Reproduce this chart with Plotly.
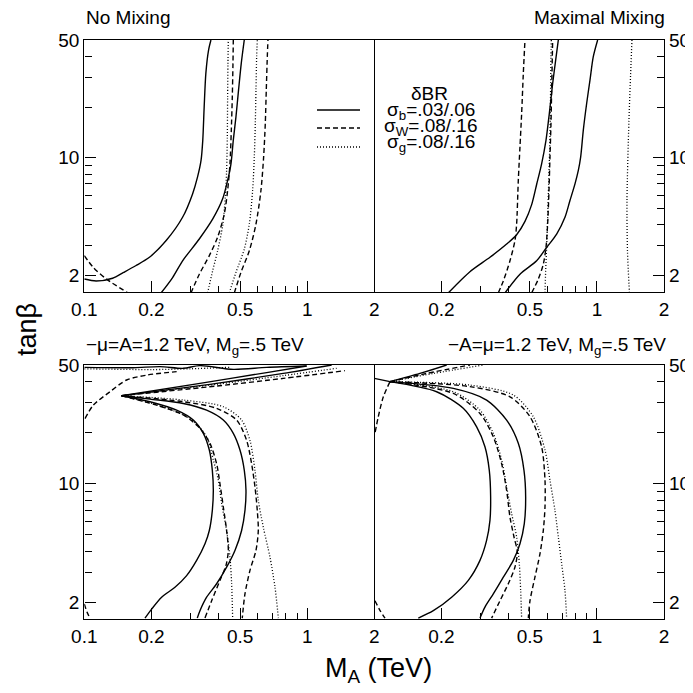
import math
import plotly.graph_objects as go

# ---------------- Top-left panel (No Mixing) ----------------
tl_solid1_ma = [0.100, 0.113, 0.134, 0.150, 0.170, 0.196, 0.233, 0.276, 0.306, 0.322, 0.334, 0.340, 0.345, 0.351, 0.361, 0.370]
tl_solid1_tb = [1.91, 1.86, 1.93, 2.09, 2.29, 2.57, 3.23, 4.44, 6.11, 7.68, 9.65, 12.7, 20.1, 31.7, 43.6, 50]
tl_solid2_ma = [0.221, 0.249, 0.276, 0.328, 0.377, 0.4175, 0.4395, 0.455, 0.466, 0.479, 0.492, 0.506, 0.522]
tl_solid2_tb = [1.58, 1.95, 2.45, 3.30, 4.34, 5.71, 7.34, 9.22, 12.7, 17.5, 25.2, 36.3, 50]
tl_dash1_ma = [0.100, 0.1097, 0.1259, 0.157]
tl_dash1_tb = [2.63, 2.24, 1.907, 1.58]
tl_dash2_ma = [0.3009, 0.3281, 0.3638, 0.3964, 0.4247, 0.4395, 0.4503, 0.4566, 0.4613, 0.4645, 0.4661]
tl_dash2_tb = [1.58, 2.04, 2.63, 3.38, 4.65, 6.40, 9.22, 14.6, 23.0, 36.3, 50]
tl_dash3_ma = [0.471, 0.5043, 0.5499, 0.5891, 0.6201, 0.6375, 0.6486, 0.6553, 0.6622, 0.6668]
tl_dash3_tb = [1.58, 2.09, 2.81, 4.05, 6.40, 10.1, 15.96, 25.2, 39.8, 50]
tl_dot1_ma = [0.3574, 0.3766, 0.3964, 0.4175, 0.4291, 0.4350, 0.4381, 0.4395, 0.441, 0.4426]
tl_dot1_tb = [1.58, 2.14, 2.81, 3.96, 5.84, 8.42, 13.3, 23.0, 36.3, 50]
tl_dot2_ma = [0.4472, 0.479, 0.5222, 0.5499, 0.5691, 0.579, 0.585, 0.5891, 0.5932, 0.5973]
tl_dot2_tb = [1.58, 2.09, 2.88, 4.05, 6.40, 10.1, 15.96, 25.2, 39.8, 50]

# ---------------- Top-right panel (Maximal Mixing) ----------------
tr_solid1_ma = [0.2149, 0.2688, 0.3307, 0.3929, 0.4357, 0.475, 0.509, 0.5358, 0.5642, 0.5902, 0.6109, 0.6324, 0.6524, 0.6706]
tr_solid1_tb = [1.58, 2.11, 2.57, 3.08, 3.50, 4.20, 5.28, 6.95, 9.22, 12.7, 18.3, 27.6, 38.0, 50]
tr_solid2_ma = [0.3862, 0.451, 0.5358, 0.5942, 0.6590, 0.7183, 0.7563, 0.7967, 0.8247, 0.8447, 0.8683, 0.8988, 0.9303, 0.9627, 1.007]
tr_solid2_tb = [1.58, 2.04, 2.45, 2.94, 3.53, 4.44, 5.58, 7.01, 8.42, 10.1, 14.6, 21.0, 28.9, 39.8, 50]
tr_dash1_ma = [0.3604, 0.3797, 0.4067, 0.4282, 0.4357, 0.4433, 0.4510, 0.4589, 0.4669, 0.4750]
tr_dash1_tb = [1.58, 1.86, 2.45, 3.23, 4.05, 7.34, 11.6, 18.3, 31.7, 50]
tr_dash2_ma = [0.509, 0.5451, 0.5741, 0.5902, 0.6004, 0.6088, 0.6151, 0.6215, 0.6258, 0.6302, 0.6324]
tr_dash2_tb = [1.58, 1.907, 2.34, 2.94, 4.05, 6.40, 10.1, 15.96, 25.2, 39.8, 50]
tr_dot1_ma = [0.5842, 0.5883, 0.5942, 0.6004, 0.6067, 0.6130, 0.6173, 0.6194, 0.6215, 0.6237]
tr_dot1_tb = [1.58, 2.14, 2.94, 4.44, 7.01, 11.07, 17.5, 27.6, 39.8, 50]
tr_dot2_ma = [1.436, 1.392, 1.364, 1.371, 1.399]
tr_dot2_tb = [50, 16.7, 5.58, 2.81, 1.58]

# ---------------- Bottom-left panel (-mu=A=1.2 TeV) ----------------
bl_solid1_ma = [0.1471, 0.1971, 0.2596, 0.3083, 0.342, 0.3638, 0.3753, 0.3792, 0.3753, 0.3638, 0.3479, 0.3191, 0.2878, 0.2551, 0.2223, 0.2005, 0.1872]
bl_solid1_tb = [32.97, 30.4, 27.1, 23.7, 19.8, 15.8, 12.0, 9.15, 6.97, 5.31, 4.44, 3.54, 2.88, 2.46, 2.15, 1.83, 1.62]
bl_solid2_ma = [0.1471, 0.1971, 0.278, 0.3538, 0.4204, 0.4661, 0.4994, 0.5222, 0.5313, 0.5258, 0.5079, 0.4741, 0.4350, 0.3924, 0.3538, 0.3303, 0.3213]
bl_solid2_tb = [32.97, 31.5, 29.7, 27.1, 23.7, 19.8, 15.8, 12.0, 9.15, 6.97, 5.31, 4.05, 3.23, 2.58, 2.15, 1.79, 1.62]
bl_dash1_ma = [0.1471, 0.2111, 0.278, 0.3303, 0.3663, 0.3924, 0.4061, 0.4204, 0.4350, 0.4426, 0.4320, 0.4061, 0.3727, 0.3478]
bl_dash1_tb = [32.97, 29.0, 25.4, 21.2, 17.3, 13.1, 10.0, 7.30, 5.31, 4.05, 3.30, 2.70, 2.05, 1.62]
bl_dot1_ma = [0.1471, 0.2186, 0.2979, 0.3538, 0.3792, 0.3993, 0.4133, 0.4350, 0.4502, 0.4581, 0.4630]
bl_dot1_tb = [32.97, 28.7, 24.2, 18.9, 13.8, 10.5, 7.64, 5.31, 3.70, 2.58, 1.62]
bl_dash2_ma = [0.1471, 0.278, 0.3924, 0.4826, 0.5349, 0.5632, 0.5830, 0.5971, 0.6034, 0.5890, 0.5536, 0.5258, 0.5114]
bl_dash2_tb = [32.97, 30.4, 27.8, 23.7, 18.0, 13.1, 9.58, 6.97, 5.31, 4.05, 3.09, 2.25, 1.62]
bl_dot2_ma = [0.1471, 0.278, 0.4204, 0.5079, 0.5536, 0.5830, 0.6034, 0.6353, 0.6808, 0.7171, 0.7423]
bl_dot2_tb = [32.97, 31.1, 28.4, 23.7, 18.0, 12.0, 7.99, 5.56, 3.70, 2.46, 1.62]
bl_up_solid1_ma = [0.1471, 0.3303, 0.6577, 0.9942]
bl_up_solid1_tb = [32.97, 38.98, 45.1, 49.3]
bl_up_solid2_ma = [0.1471, 0.3924, 0.7812, 1.2875]
bl_up_solid2_tb = [32.97, 38.98, 44.6, 50]
bl_up_dash_ma = [0.1471, 0.3924, 0.7812, 1.477]
bl_up_dash_tb = [32.97, 37.6, 41.7, 46.3]
bl_up_dot_ma = [0.1471, 0.3924, 0.7812, 1.355]
bl_up_dot_tb = [32.97, 38.5, 43.3, 47.8]
bl_top_solid_ma = [0.100, 0.166, 0.2186, 0.278, 0.3303, 0.4661, 0.6577, 0.9942]
bl_top_solid_tb = [48.4, 48.2, 48.9, 47.8, 49.55, 47.1, 48.4, 49.3]
bl_top_dot_ma = [0.100, 0.200, 0.300, 0.450]
bl_top_dot_tb = [47.5, 47.0, 47.5, 48.5]
bl_left_dash_ma = [0.1007, 0.1097, 0.1303, 0.1549, 0.1904, 0.2596]
bl_left_dash_tb = [24.2, 29.0, 34.8, 40.8, 43.6, 45.7]
bl_corner_dash_ma = [0.100, 0.103, 0.106]
bl_corner_dash_tb = [1.96, 1.75, 1.62]

# ---------------- Bottom-right panel (-A=mu=1.2 TeV) ----------------
br_solid1_ma = [0.1176, 0.1905, 0.2509, 0.2882, 0.314, 0.3284, 0.333, 0.3307, 0.3194, 0.2983, 0.2644, 0.2225, 0.1841, 0.1576]
br_solid1_tb = [39.9, 34.8, 27.8, 21.6, 16.5, 12.0, 8.36, 6.09, 4.64, 3.54, 2.70, 2.15, 1.79, 1.62]
br_solid2_ma = [0.1176, 0.2264, 0.3194, 0.3929, 0.4433, 0.4701, 0.4783, 0.4717, 0.451, 0.4210, 0.3797, 0.3423, 0.314, 0.2983]
br_solid2_tb = [39.9, 36.4, 31.1, 23.7, 17.3, 12.0, 8.36, 5.82, 4.44, 3.54, 2.82, 2.25, 1.88, 1.62]
br_dash1_ma = [0.1176, 0.2264, 0.2983, 0.3423, 0.3732, 0.3929, 0.4067, 0.4240, 0.4388, 0.4282, 0.3997, 0.3668, 0.3365]
br_dash1_tb = [39.9, 34.0, 25.9, 18.9, 13.1, 9.15, 6.37, 4.86, 3.96, 3.23, 2.58, 2.05, 1.62]
br_dot1_ma = [0.1176, 0.2264, 0.2983, 0.3423, 0.3732, 0.3929, 0.4138, 0.4357, 0.4480, 0.4543, 0.4589]
br_dot1_tb = [39.9, 34.8, 27.1, 19.8, 13.8, 9.58, 6.67, 4.86, 3.38, 2.35, 1.62]
br_dash2_ma = [0.1176, 0.2688, 0.4067, 0.5003, 0.5642, 0.5842, 0.5842, 0.5741, 0.5546, 0.5265, 0.5003, 0.4917]
br_dash2_tb = [39.9, 37.3, 32.5, 24.8, 16.5, 10.5, 7.30, 5.31, 3.87, 2.82, 2.05, 1.62]
br_dot2_ma = [0.1176, 0.2688, 0.4210, 0.5178, 0.5842, 0.6151, 0.6476, 0.6706, 0.6941, 0.7183, 0.7308]
br_dot2_tb = [39.9, 38.1, 33.3, 24.8, 15.8, 10.5, 6.97, 4.86, 3.38, 2.35, 1.62]
br_up_solid_ma = [0.1176, 0.1603, 0.2113]
br_up_solid_tb = [39.9, 44.6, 50]
br_up_dash_ma = [0.1176, 0.1718, 0.2688]
br_up_dash_tb = [39.9, 44.6, 50]
br_up_dot_ma = [0.1176, 0.1841, 0.3087]
br_up_dot_tb = [39.9, 44.6, 50]
br_left_solid_ma = [0.100, 0.1176]
br_left_solid_tb = [41.7, 39.9]
br_left_dash_ma = [0.1176, 0.1098, 0.1042, 0.1007]
br_left_dash_tb = [39.9, 32.5, 24.8, 19.8]
br_corner_dash_ma = [0.1007, 0.106, 0.1117]
br_corner_dash_tb = [2.05, 1.8, 1.62]

# ---------------- ticks / labels ----------------
x_tick_vals_left = [0.1, 0.2, 0.5, 1, 2]
x_tick_text_left = ["0.1", "0.2", "0.5", "1", "2"]
x_tick_vals_right = [0.2, 0.5, 1, 2]
x_tick_text_right = ["0.2", "0.5", "1", "2"]
x_minor_vals = [0.3, 0.4, 0.6, 0.7, 0.8, 0.9]
y_tick_vals = [2, 10, 50]
y_tick_text = ["2", "10", "50"]
y_minor_vals = [3, 4, 5, 6, 7, 8, 9, 20, 30, 40]

W = H = 693
PAGE_OFFSET = 8  # default body margin of the html page
FONT = "Liberation Sans, Arial, Helvetica, sans-serif"
SOLID = "solid"
DASH = "5px,3px"
DOT = "1px,2px"

fig = go.Figure()

def add(ma, tb, dash, ax):
    xa, ya = ax
    fig.add_trace(go.Scatter(
        x=ma, y=tb, mode="lines", xaxis=xa, yaxis=ya, showlegend=False,
        hoverinfo="skip",
        line=dict(color="black", width=1.4 if dash != DOT else 1.3, dash=dash,
                  shape="spline", smoothing=0.8)))

TL = ("x", "y"); TR = ("x2", "y2"); BL = ("x3", "y3"); BR = ("x4", "y4")

add(tl_solid1_ma, tl_solid1_tb, SOLID, TL)
add(tl_solid2_ma, tl_solid2_tb, SOLID, TL)
add(tl_dash1_ma, tl_dash1_tb, DASH, TL)
add(tl_dash2_ma, tl_dash2_tb, DASH, TL)
add(tl_dash3_ma, tl_dash3_tb, DASH, TL)
add(tl_dot1_ma, tl_dot1_tb, DOT, TL)
add(tl_dot2_ma, tl_dot2_tb, DOT, TL)

add(tr_solid1_ma, tr_solid1_tb, SOLID, TR)
add(tr_solid2_ma, tr_solid2_tb, SOLID, TR)
add(tr_dash1_ma, tr_dash1_tb, DASH, TR)
add(tr_dash2_ma, tr_dash2_tb, DASH, TR)
add(tr_dot1_ma, tr_dot1_tb, DOT, TR)
add(tr_dot2_ma, tr_dot2_tb, DOT, TR)

add(bl_solid1_ma, bl_solid1_tb, SOLID, BL)
add(bl_solid2_ma, bl_solid2_tb, SOLID, BL)
add(bl_dash1_ma, bl_dash1_tb, DASH, BL)
add(bl_dash2_ma, bl_dash2_tb, DASH, BL)
add(bl_dot1_ma, bl_dot1_tb, DOT, BL)
add(bl_dot2_ma, bl_dot2_tb, DOT, BL)
add(bl_up_solid1_ma, bl_up_solid1_tb, SOLID, BL)
add(bl_up_solid2_ma, bl_up_solid2_tb, SOLID, BL)
add(bl_up_dash_ma, bl_up_dash_tb, DASH, BL)
add(bl_up_dot_ma, bl_up_dot_tb, DOT, BL)
add(bl_top_solid_ma, bl_top_solid_tb, SOLID, BL)
add(bl_top_dot_ma, bl_top_dot_tb, DOT, BL)
add(bl_left_dash_ma, bl_left_dash_tb, DASH, BL)
add(bl_corner_dash_ma, bl_corner_dash_tb, DASH, BL)

add(br_solid1_ma, br_solid1_tb, SOLID, BR)
add(br_solid2_ma, br_solid2_tb, SOLID, BR)
add(br_dash1_ma, br_dash1_tb, DASH, BR)
add(br_dash2_ma, br_dash2_tb, DASH, BR)
add(br_dot1_ma, br_dot1_tb, DOT, BR)
add(br_dot2_ma, br_dot2_tb, DOT, BR)
add(br_up_solid_ma, br_up_solid_tb, SOLID, BR)
add(br_up_dash_ma, br_up_dash_tb, DASH, BR)
add(br_up_dot_ma, br_up_dot_tb, DOT, BR)
add(br_left_solid_ma, br_left_solid_tb, SOLID, BR)
add(br_left_dash_ma, br_left_dash_tb, DASH, BR)
add(br_corner_dash_ma, br_corner_dash_tb, DASH, BR)

def px_x(X):
    return (X - PAGE_OFFSET) / W

def px_y(Y):
    return 1 - (Y - PAGE_OFFSET) / H

xdom_l = [px_x(84.3), px_x(374.3)]
xdom_r = [px_x(374.3), px_x(664)]
ydom_t = [px_y(292), px_y(40)]
ydom_b = [px_y(619), px_y(365)]

xr = [math.log10(0.1), math.log10(2)]
yr = [math.log10(1.6), math.log10(50)]

def xaxis(dom, anchor, vals, text):
    return dict(type="log", domain=dom, anchor=anchor, range=xr, automargin=False,
                tickmode="array", tickvals=vals, ticktext=text,
                ticks="inside", ticklen=11, tickwidth=1.4, tickcolor="black",
                minor=dict(tickmode="array", tickvals=x_minor_vals, ticks="inside",
                           ticklen=6, tickwidth=1.2, tickcolor="black", showgrid=False),
                showline=True, mirror=True, linecolor="black", linewidth=1.4,
                showgrid=False, zeroline=False,
                tickfont=dict(family=FONT, size=19, color="black"))

def yaxis(dom, anchor, side, mirror):
    return dict(type="log", domain=dom, anchor=anchor, range=yr, side=side, automargin=False,
                tickmode="array", tickvals=y_tick_vals, ticktext=y_tick_text,
                ticks="inside", ticklen=11, tickwidth=1.4, tickcolor="black",
                minor=dict(tickmode="array", tickvals=y_minor_vals, ticks="inside",
                           ticklen=7, tickwidth=1.2, tickcolor="black", showgrid=False),
                showline=True, mirror=mirror, linecolor="black", linewidth=1.4,
                showgrid=False, zeroline=False,
                tickfont=dict(family=FONT, size=19, color="black"))

fig.update_layout(
    width=W, height=H, autosize=False,
    margin=dict(l=0, r=0, t=0, b=0, autoexpand=False),
    paper_bgcolor="white", plot_bgcolor="white",
    font=dict(family=FONT, size=19, color="black"),
    xaxis=xaxis(xdom_l, "y", x_tick_vals_left, x_tick_text_left),
    yaxis=yaxis(ydom_t, "x", "left", True),
    xaxis2=xaxis(xdom_r, "y2", x_tick_vals_right, x_tick_text_right),
    yaxis2=yaxis(ydom_t, "x2", "right", False),
    xaxis3=xaxis(xdom_l, "y3", x_tick_vals_left, x_tick_text_left),
    yaxis3=yaxis(ydom_b, "x3", "left", True),
    xaxis4=xaxis(xdom_r, "y4", x_tick_vals_right, x_tick_text_right),
    yaxis4=yaxis(ydom_b, "x4", "right", False),
)

ann = []
def text(t, X, Y, xa="center", size=19, angle=0):
    ann.append(dict(text=t, x=px_x(X), y=px_y(Y), xref="paper", yref="paper",
                    xanchor=xa, yanchor="middle", showarrow=False, textangle=angle,
                    font=dict(family=FONT, size=size, color="black")))

text("No Mixing", 84, 17, "left")
text("Maximal Mixing", 667, 17, "right")
text("δBR", 430, 94, size=19)
text("σ<sub>b</sub>=.03/.06", 431, 111, size=19)
text("σ<sub>W</sub>=.08/.16", 431, 127, size=19)
text("σ<sub>g</sub>=.08/.16", 431, 143, size=19)
text("\u2212μ=A=1.2 TeV, M<sub>g</sub>=.5 TeV", 84, 346, "left")
text("\u2212A=μ=1.2 TeV, M<sub>g</sub>=.5 TeV", 668, 346, "right")
text("M<sub>A</sub> (TeV)", 378, 670, size=27)
text("tanβ", 27, 330, size=27, angle=-90)
fig.update_layout(annotations=ann)

shapes = []
for Y, d in [(110, "solid"), (128, "dash"), (147, "dot")]:
    shapes.append(dict(type="line", xref="paper", yref="paper",
                       x0=px_x(317), x1=px_x(360), y0=px_y(Y), y1=px_y(Y),
                       line=dict(color="black", width=1.5,
                                 dash={"solid": "solid", "dash": DASH, "dot": DOT}[d])))
fig.update_layout(shapes=shapes)

fig.write_html("out.html")
